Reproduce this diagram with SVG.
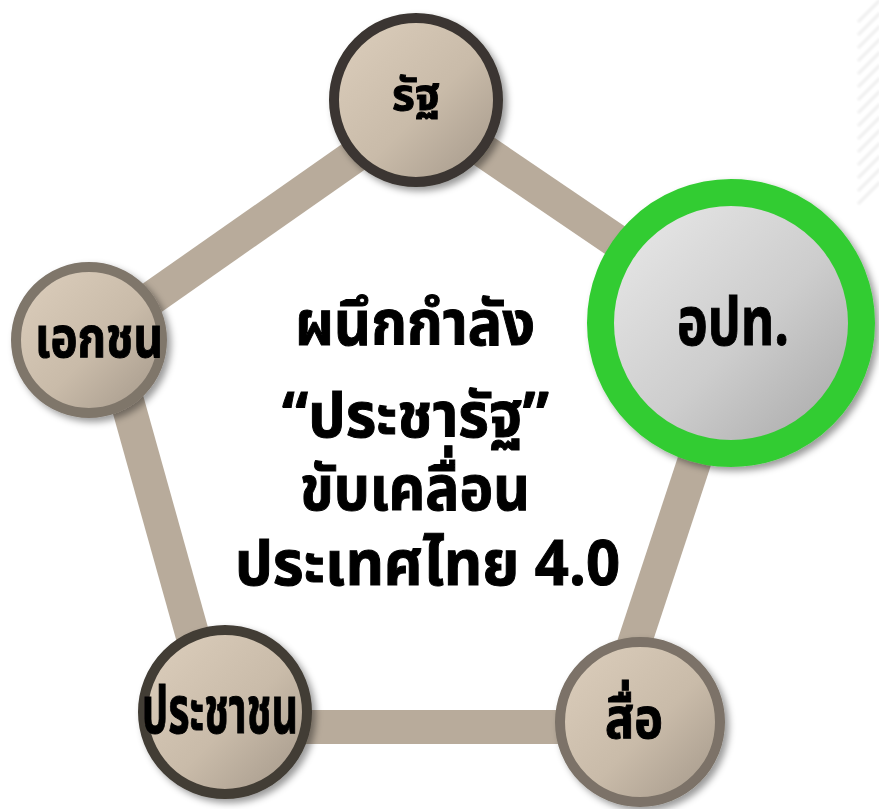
<svg xmlns="http://www.w3.org/2000/svg" width="879" height="809" viewBox="0 0 879 809">
  <defs>
    <style>
      .conn { stroke: #b8ab9b; stroke-width: 34; stroke-linecap: butt; fill: none; }
      .lbl { font-family: "Noto Sans Thai", "Noto Sans", "Liberation Sans", sans-serif; font-weight: bold; fill: #000; stroke: #000; stroke-width: 1; text-anchor: middle; }
      .stripe { stroke: #efefef; stroke-width: 3; }
    </style>
    <linearGradient id="beige" x1="0" y1="0" x2="1" y2="1">
      <stop offset="0" stop-color="#ddcfbd"/>
      <stop offset="0.55" stop-color="#c9bba9"/>
      <stop offset="1" stop-color="#a29688"/>
    </linearGradient>
    <linearGradient id="gray" x1="0" y1="0" x2="1" y2="1">
      <stop offset="0" stop-color="#ececec"/>
      <stop offset="0.55" stop-color="#cdcdcd"/>
      <stop offset="1" stop-color="#a3a3a3"/>
    </linearGradient>
    <filter id="shadow" x="-20%" y="-20%" width="140%" height="140%">
      <feDropShadow dx="4" dy="4" stdDeviation="3.5" flood-color="#000" flood-opacity="0.4"/>
    </filter>
    <filter id="soft" x="-20%" y="-20%" width="140%" height="140%">
      <feGaussianBlur stdDeviation="1"/>
    </filter>
  </defs>

  <rect width="879" height="809" fill="#ffffff"/>

  <g id="stripes" filter="url(#soft)">
    <line class="stripe" x1="858" y1="22" x2="880" y2="0"/>
    <line class="stripe" x1="858" y1="35" x2="880" y2="13"/>
    <line class="stripe" x1="858" y1="48" x2="880" y2="26"/>
    <line class="stripe" x1="858" y1="61" x2="880" y2="39"/>
    <line class="stripe" x1="858" y1="74" x2="880" y2="52"/>
    <line class="stripe" x1="858" y1="87" x2="880" y2="65"/>
    <line class="stripe" x1="858" y1="100" x2="880" y2="78"/>
    <line class="stripe" x1="858" y1="113" x2="880" y2="91"/>
    <line class="stripe" x1="858" y1="126" x2="880" y2="104"/>
    <line class="stripe" x1="858" y1="139" x2="880" y2="117"/>
    <line class="stripe" x1="858" y1="152" x2="880" y2="130"/>
    <line class="stripe" x1="858" y1="165" x2="880" y2="143"/>
    <line class="stripe" x1="858" y1="178" x2="880" y2="156"/>
    <line class="stripe" x1="858" y1="191" x2="880" y2="169"/>
    <line class="stripe" x1="858" y1="204" x2="880" y2="182"/>
  </g>

  <g id="connectors">
    <line class="conn" x1="89" y1="342" x2="416" y2="113"/>
    <line class="conn" x1="416" y1="105" x2="731" y2="319"/>
    <line class="conn" x1="740" y1="323" x2="609" y2="720"/>
    <line class="conn" x1="225" y1="727" x2="640" y2="727"/>
    <line class="conn" x1="110" y1="340" x2="214" y2="712"/>
  </g>

  <text id="title" class="lbl" font-size="62">
    <tspan x="423" y="345" textLength="240" lengthAdjust="spacingAndGlyphs">ผนึกกำลัง</tspan>
    <tspan x="423.5" y="437" textLength="267" lengthAdjust="spacingAndGlyphs">“ประชารัฐ”</tspan>
    <tspan x="423" y="510" textLength="230" lengthAdjust="spacingAndGlyphs">ขับเคลื่อน</tspan>
    <tspan x="427.5" y="585" textLength="385" lengthAdjust="spacingAndGlyphs">ประเทศไทย 4.0</tspan>
  </text>

  <g id="node-state" filter="url(#shadow)">
    <circle cx="416" cy="100" r="82" fill="url(#beige)" stroke="#3b3631" stroke-width="10"/>
    <text class="lbl" x="416" y="110" font-size="44" textLength="48" lengthAdjust="spacingAndGlyphs">รัฐ</text>
  </g>

  <g id="node-local" filter="url(#shadow)">
    <circle cx="731" cy="323" r="130.5" fill="url(#gray)" stroke="#33cc33" stroke-width="27"/>
    <text class="lbl" x="733" y="345" font-size="68" textLength="112" lengthAdjust="spacingAndGlyphs">อปท.</text>
  </g>

  <g id="node-private" filter="url(#shadow)">
    <circle cx="89" cy="340" r="73" fill="url(#beige)" stroke="#7f766b" stroke-width="10"/>
    <text class="lbl" x="99" y="357" font-size="56" textLength="128" lengthAdjust="spacingAndGlyphs">เอกชน</text>
  </g>

  <g id="node-people" filter="url(#shadow)">
    <circle cx="225" cy="712" r="82" fill="url(#beige)" stroke="#423d35" stroke-width="10"/>
    <text class="lbl" x="220" y="733" font-size="66" textLength="156" lengthAdjust="spacingAndGlyphs">ประชาชน</text>
  </g>

  <g id="node-media" filter="url(#shadow)">
    <circle cx="640" cy="722" r="80" fill="url(#beige)" stroke="#7b7267" stroke-width="10"/>
    <text class="lbl" x="634" y="738" font-size="56" textLength="58" lengthAdjust="spacingAndGlyphs">สื่อ</text>
  </g>
</svg>
